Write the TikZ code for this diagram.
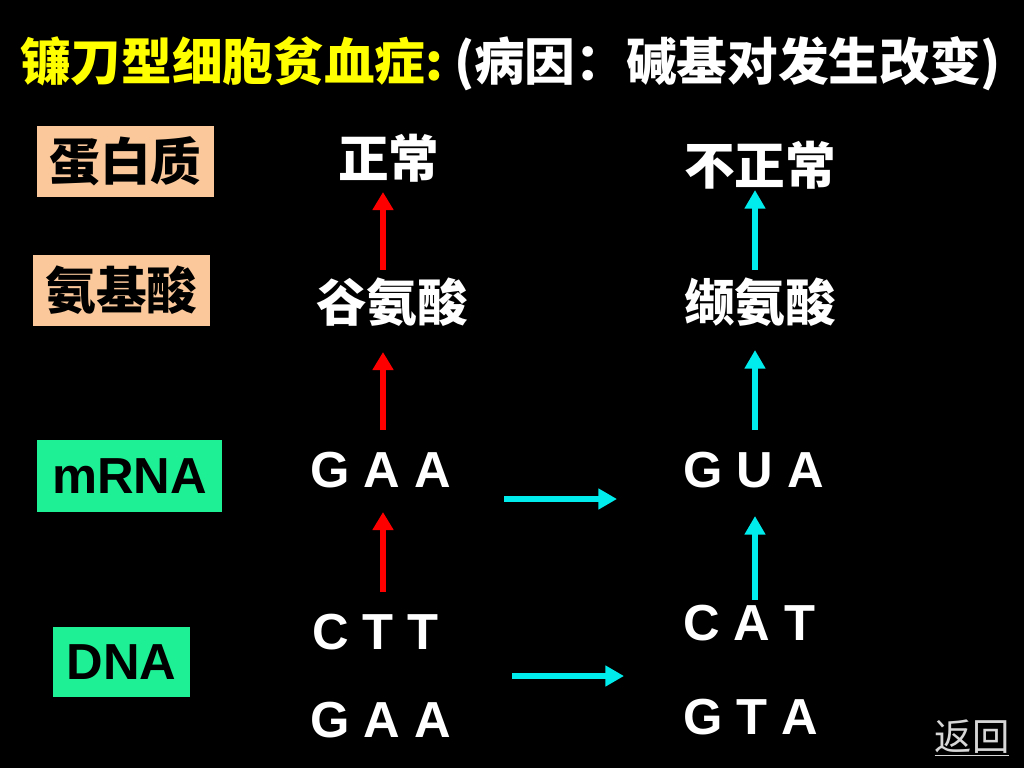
\documentclass[tikz,border=0pt]{standalone}
\usepackage{fontspec}
\setmainfont{Liberation Sans}
\newfontfamily\cjk{Noto Sans CJK SC}
\usetikzlibrary{arrows.meta}
\definecolor{peach}{RGB}{250,200,155}
\definecolor{mint}{RGB}{30,240,150}
\definecolor{cyanarr}{RGB}{0,235,235}
\definecolor{titleyellow}{RGB}{255,255,0}
\definecolor{backgray}{RGB}{215,215,215}
\tikzset{
  x=0.75pt, y=-0.75pt,
  big/.style={font=\fontsize{38}{40}\selectfont\bfseries, inner sep=0pt},
  lab/.style={big, text=white, anchor=west},
  labelbox/.style={big, text=black, anchor=center},
  redarrow/.style={draw=red, line width=4.5pt, -{Triangle[width=15pt,length=13.5pt]}},
  cyanarrow/.style={draw=cyanarr, line width=4.5pt, -{Triangle[width=15pt,length=14pt]}},
  hcyanarrow/.style={draw=cyanarr, line width=4pt, -{Triangle[width=15pt,length=14pt]}},
}
\begin{document}
\begin{tikzpicture}
\useasboundingbox (0,0) rectangle (1024,768);
\fill[black] (0,0) rectangle (1024,768);

% title
\node[big, anchor=west] (title) at (20,64) {\cjk\textcolor{titleyellow}{镰刀型细胞贫血症}\textcolor{titleyellow}{:}\hspace{8pt}\textcolor{white}{(病因：碱基对发生改变)}};

% label boxes
\node[labelbox, fill=peach, minimum width=132.75pt, minimum height=53.25pt] (prot) at (125.5,161.5) {\cjk 蛋白质};
\node[labelbox, fill=peach, minimum width=132.75pt, minimum height=53.25pt] (amino) at (121.5,290.5) {\cjk 氨基酸};
\node[labelbox, fill=mint, minimum width=138.75pt, minimum height=54pt] (mrna) at (129.5,476) {mRNA};
\node[labelbox, fill=mint, minimum width=102.75pt, minimum height=52.5pt] (dna) at (121.5,662) {DNA};

% column 1
\node[lab] (zc) at (338,158) {\cjk 正常};
\node[lab] (glu) at (316,302) {\cjk 谷氨酸};
\node[lab] (gaa) at (310,470) {G A A};
\node[lab] (ctt) at (312,632) {C T T};
\node[lab] (gaab) at (310,720) {G A A};

% column 2
\node[lab] (bzc) at (684,165) {\cjk 不正常};
\node[lab] (val) at (684,302) {\cjk 缬氨酸};
\node[lab] (gua) at (683,470) {G U A};
\node[lab] (cat) at (683,623) {C A T};
\node[lab] (gta) at (683,717) {G T A};

\coordinate (colA) at (383,0);
\coordinate (colB) at (755,0);

% red arrows
\draw[redarrow, shorten <=24pt, shorten >=25.5pt] (glu -| colA) -- (zc -| colA);
\draw[redarrow, shorten <=30pt, shorten >=37.5pt] (gaa -| colA) -- (glu -| colA);
\draw[redarrow, shorten <=30pt, shorten >=31.5pt] (ctt -| colA) -- (gaa -| colA);

% cyan arrows
\draw[cyanarrow, shorten <=24pt, shorten >=18.75pt] (val -| colB) -- (bzc -| colB);
\draw[cyanarrow, shorten <=30pt, shorten >=36pt] (gua -| colB) -- (val -| colB);
\draw[cyanarrow, shorten <=17.25pt, shorten >=34.5pt] (cat -| colB) -- (gua -| colB);

% horizontal arrows
\coordinate (h1s) at (504,499);
\coordinate (h1e) at (617,499);
\coordinate (h2s) at (512,676);
\coordinate (h2e) at (624,676);
\draw[hcyanarrow] (h1s) -- (h1e);
\draw[hcyanarrow] (h2s) -- (h2e);

% back link
\node[inner sep=0pt, text=backgray, font=\fontsize{28}{30}\selectfont] (back) at (972,738) {\cjk\underline{返回}};
\end{tikzpicture}
\end{document}
